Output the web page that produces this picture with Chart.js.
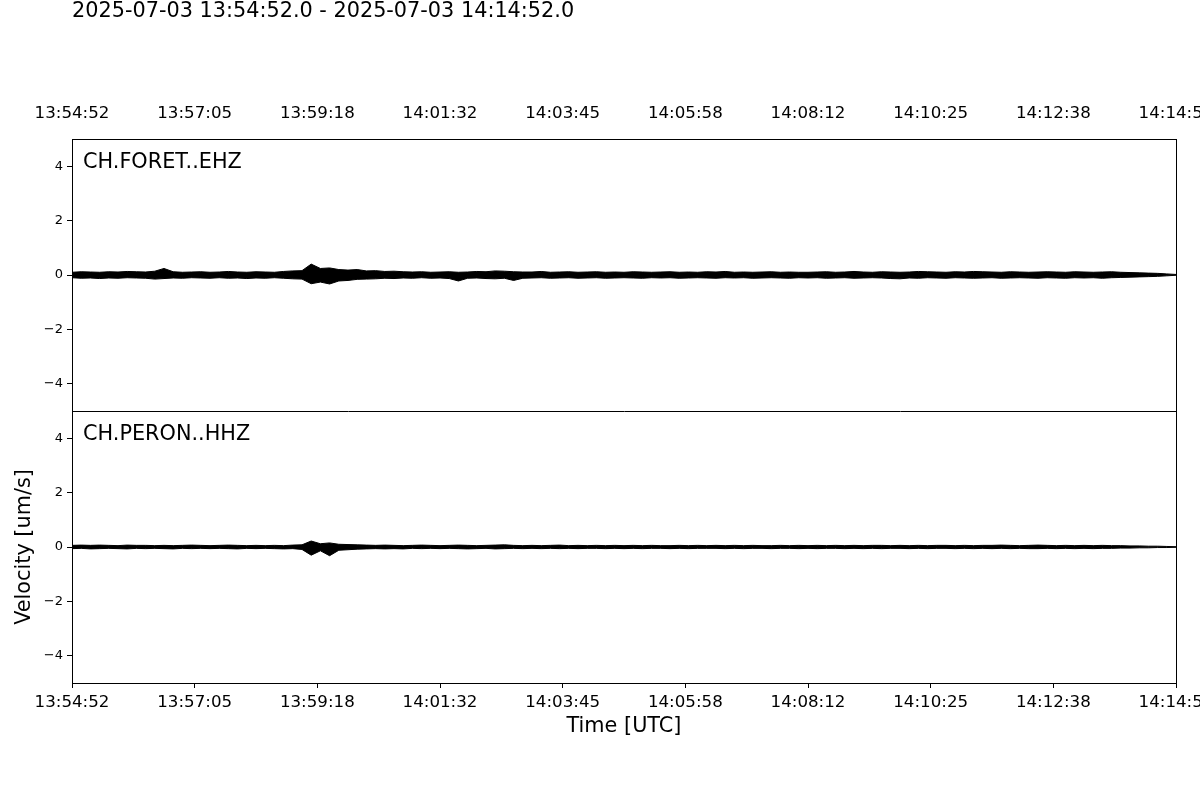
<!DOCTYPE html>
<html lang="en">

<head>
    <meta charset="UTF-8">
    <title>CH.FORET / CH.PERON waveforms</title>
    <style>
        html, body { margin: 0; padding: 0; background: #fff; }
        #wrap { width: 1200px; height: 800px; }
    </style>
</head>

<body>
    <div id="wrap"><canvas id="myChart" width="1200" height="800"></canvas></div>
    <script src="https://cdn.jsdelivr.net/npm/chart.js"></script>
    <script>
        // window shown, seconds from 13:54:52, one envelope sample every 10 s
        const plotTitle = '2025-07-03 13:54:52.0 - 2025-07-03 14:14:52.0';
        const duration = 1200;
        const sampleStep = 10;
        const stations = ['CH.FORET..EHZ', 'CH.PERON..HHZ'];
        const timeTickLabels = ['13:54:52', '13:57:05', '13:59:18', '14:01:32', '14:03:45',
            '14:05:58', '14:08:12', '14:10:25', '14:12:38', '14:14:52'];
        const velocityTicks = [-4, -2, 0, 2, 4];

        // CH.FORET..EHZ upper / lower envelope [um/s]
        const foretHigh = [
            0.10, 0.12, 0.11, 0.10, 0.12, 0.11, 0.13, 0.12, 0.11, 0.14,
            0.24, 0.12, 0.10, 0.11, 0.12, 0.10, 0.11, 0.13, 0.11, 0.10,
            0.12, 0.11, 0.10, 0.13, 0.15, 0.16, 0.40, 0.24, 0.26, 0.20,
            0.18, 0.20, 0.15, 0.16, 0.13, 0.14, 0.12, 0.11, 0.12, 0.10,
            0.11, 0.12, 0.10, 0.11, 0.13, 0.12, 0.15, 0.14, 0.12, 0.11,
            0.11, 0.13, 0.10, 0.11, 0.12, 0.10, 0.11, 0.12, 0.10, 0.11,
            0.10, 0.12, 0.11, 0.10, 0.11, 0.12, 0.10, 0.11, 0.10, 0.12,
            0.11, 0.13, 0.10, 0.11, 0.10, 0.11, 0.12, 0.10, 0.11, 0.10,
            0.10, 0.11, 0.12, 0.10, 0.11, 0.13, 0.11, 0.10, 0.12, 0.11,
            0.10, 0.11, 0.13, 0.12, 0.11, 0.10, 0.12, 0.11, 0.13, 0.12,
            0.11, 0.10, 0.12, 0.11, 0.10, 0.11, 0.12, 0.11, 0.10, 0.12,
            0.11, 0.10, 0.11, 0.12, 0.10, 0.09, 0.08, 0.07, 0.06, 0.04, 0.02
        ];
        const foretLow = [
            -0.10, -0.12, -0.11, -0.13, -0.11, -0.12, -0.10, -0.11, -0.12, -0.15,
            -0.13, -0.11, -0.12, -0.10, -0.11, -0.12, -0.10, -0.12, -0.11, -0.13,
            -0.11, -0.12, -0.10, -0.12, -0.14, -0.15, -0.32, -0.26, -0.33, -0.22,
            -0.20, -0.16, -0.15, -0.14, -0.12, -0.13, -0.11, -0.12, -0.10, -0.12,
            -0.11, -0.13, -0.22, -0.12, -0.11, -0.13, -0.14, -0.12, -0.20, -0.12,
            -0.11, -0.10, -0.12, -0.11, -0.10, -0.12, -0.11, -0.10, -0.12, -0.11,
            -0.10, -0.11, -0.12, -0.10, -0.11, -0.10, -0.12, -0.11, -0.10, -0.11,
            -0.12, -0.10, -0.11, -0.10, -0.12, -0.11, -0.10, -0.11, -0.12, -0.10,
            -0.11, -0.10, -0.12, -0.11, -0.10, -0.12, -0.11, -0.10, -0.11, -0.13,
            -0.14, -0.11, -0.12, -0.10, -0.11, -0.12, -0.10, -0.11, -0.12, -0.11,
            -0.10, -0.12, -0.11, -0.10, -0.11, -0.12, -0.10, -0.11, -0.12, -0.10,
            -0.11, -0.10, -0.12, -0.10, -0.09, -0.08, -0.07, -0.06, -0.05, -0.03, -0.01
        ];

        // CH.PERON..HHZ upper / lower envelope [um/s]
        const peronHigh = [
            0.06, 0.07, 0.06, 0.07, 0.06, 0.05, 0.07, 0.06, 0.06, 0.05,
            0.06, 0.05, 0.06, 0.07, 0.06, 0.05, 0.06, 0.07, 0.06, 0.05,
            0.06, 0.05, 0.06, 0.05, 0.07, 0.08, 0.22, 0.12, 0.15, 0.10,
            0.09, 0.08, 0.07, 0.06, 0.07, 0.06, 0.05, 0.06, 0.07, 0.06,
            0.05, 0.06, 0.07, 0.06, 0.05, 0.06, 0.07, 0.08, 0.06, 0.05,
            0.06, 0.05, 0.06, 0.07, 0.05, 0.06, 0.05, 0.06, 0.05, 0.06,
            0.05, 0.06, 0.05, 0.06, 0.05, 0.05, 0.06, 0.05, 0.06, 0.05,
            0.06, 0.05, 0.06, 0.05, 0.06, 0.05, 0.05, 0.06, 0.05, 0.06,
            0.05, 0.06, 0.05, 0.06, 0.05, 0.06, 0.05, 0.06, 0.06, 0.05,
            0.06, 0.05, 0.06, 0.05, 0.06, 0.06, 0.05, 0.06, 0.05, 0.06,
            0.06, 0.07, 0.06, 0.05, 0.06, 0.07, 0.06, 0.05, 0.06, 0.05,
            0.06, 0.05, 0.06, 0.05, 0.05, 0.04, 0.04, 0.03, 0.03, 0.02, 0.01
        ];
        const peronLow = [
            -0.06, -0.05, -0.07, -0.06, -0.05, -0.06, -0.07, -0.05, -0.06, -0.05,
            -0.06, -0.07, -0.05, -0.06, -0.05, -0.06, -0.05, -0.06, -0.07, -0.05,
            -0.06, -0.05, -0.06, -0.07, -0.06, -0.09, -0.30, -0.14, -0.32, -0.12,
            -0.10, -0.08, -0.07, -0.06, -0.07, -0.06, -0.07, -0.05, -0.06, -0.05,
            -0.06, -0.05, -0.06, -0.07, -0.06, -0.05, -0.07, -0.06, -0.05, -0.06,
            -0.05, -0.06, -0.05, -0.06, -0.05, -0.06, -0.05, -0.05, -0.06, -0.05,
            -0.06, -0.05, -0.06, -0.05, -0.05, -0.06, -0.05, -0.06, -0.05, -0.05,
            -0.05, -0.06, -0.05, -0.06, -0.05, -0.05, -0.06, -0.05, -0.05, -0.06,
            -0.05, -0.06, -0.05, -0.05, -0.06, -0.05, -0.06, -0.05, -0.06, -0.05,
            -0.05, -0.06, -0.05, -0.06, -0.05, -0.05, -0.06, -0.05, -0.06, -0.05,
            -0.06, -0.05, -0.06, -0.05, -0.06, -0.06, -0.05, -0.06, -0.05, -0.06,
            -0.05, -0.06, -0.05, -0.05, -0.04, -0.04, -0.03, -0.03, -0.02, -0.02, -0.01
        ];

        const FONT = '"DejaVu Sans", "Liberation Sans", sans-serif';

        let toPoints = (values) => values.map((v, i) => ({ x: i * sampleStep, y: v }));

        let envelope = (values, axis, fill) => ({
            data: toPoints(values),
            yAxisID: axis,
            xAxisID: 'x',
            borderColor: '#000',
            backgroundColor: '#000',
            borderWidth: 1,
            pointRadius: 0,
            tension: 0,
            fill: fill
        });

        const timeTickValues = timeTickLabels.map((_, i) => i * duration / (timeTickLabels.length - 1));

        let timeAxis = (position, extra) => Object.assign({
            type: 'linear',
            position: position,
            min: 0,
            max: duration,
            afterBuildTicks: (s) => { s.ticks = timeTickValues.map(v => ({ value: v })); },
            border: { display: false }
        }, extra);

        let timeTicks = (pad) => ({
            autoSkip: false,
            maxRotation: 0,
            color: '#000',
            padding: pad,
            font: { family: FONT, size: 16.67 },
            callback: (v, i) => timeTickLabels[i]
        });

        let velocityAxis = (extra) => Object.assign({
            type: 'linear',
            position: 'left',
            stack: 'panels',
            stackWeight: 1,
            min: -5,
            max: 5,
            afterBuildTicks: (s) => { s.ticks = velocityTicks.map(v => ({ value: v })); },
            afterFit: (s) => { s.width = 72; },
            grid: { display: true, drawOnChartArea: false, color: '#000', tickLength: 5 },
            border: { display: false },
            ticks: {
                color: '#000',
                padding: 4,
                font: { family: FONT, size: 13 },
                callback: (v) => String(v).replace('-', '\u2212')
            }
        }, extra);

        const framePlugin = {
            id: 'frame',
            afterDraw(chart) {
                const { ctx, chartArea: a, scales } = chart;
                const l = Math.round(a.left) + 0.5, r = Math.round(a.right) + 0.5;
                const t = Math.round(a.top) + 0.5, b = Math.round(a.bottom) + 0.5;
                const mid = Math.round(scales.yTop.bottom) + 0.5;
                ctx.save();
                ctx.strokeStyle = '#000';
                ctx.lineWidth = 1;
                ctx.strokeRect(l, t, r - l, b - t);
                ctx.beginPath();
                ctx.moveTo(l, mid);
                ctx.lineTo(r, mid);
                ctx.stroke();

                ctx.fillStyle = '#000';
                ctx.textAlign = 'left';
                ctx.textBaseline = 'alphabetic';
                ctx.font = '20.8px ' + FONT;
                ctx.fillText(stations[0], a.left + 11, scales.yTop.top + 29);
                ctx.fillText(stations[1], a.left + 11, scales.yBot.top + 29);
                ctx.fillText(plotTitle, a.left, 16.5);
                ctx.restore();
            }
        };

        const config = {
            type: 'line',
            data: {
                datasets: [
                    envelope(foretHigh, 'yTop', '+1'),
                    envelope(foretLow, 'yTop', false),
                    envelope(peronHigh, 'yBot', '+1'),
                    envelope(peronLow, 'yBot', false)
                ]
            },
            options: {
                responsive: false,
                animation: false,
                devicePixelRatio: 1,
                layout: { padding: { left: 0, top: 0, right: 24, bottom: 0 } },
                plugins: {
                    legend: { display: false },
                    tooltip: { enabled: false },
                    title: { display: false }
                },
                scales: {
                    x: timeAxis('bottom', {
                        afterFit: (s) => { s.height = 117; s.paddingLeft = 0; s.paddingRight = 0; },
                        grid: { display: true, drawOnChartArea: false, color: '#000', tickLength: 5 },
                        ticks: timeTicks(5),
                        title: {
                            display: true, text: 'Time [UTC]', color: '#000',
                            font: { family: FONT, size: 20.8 },
                            padding: { top: 0, bottom: 60.5 }
                        }
                    }),
                    xTop: timeAxis('top', {
                        afterFit: (s) => { s.height = 139; s.paddingLeft = 0; s.paddingRight = 0; },
                        grid: { display: false },
                        ticks: timeTicks(7.5)
                    }),
                    yBot: velocityAxis({
                        title: {
                            display: true, text: 'Velocity [um/s]', color: '#000',
                            font: { family: FONT, size: 20.8 },
                            padding: { top: 12.5, bottom: 0 }
                        }
                    }),
                    yTop: velocityAxis({})
                }
            },
            plugins: [framePlugin]
        };

        const myChart = new Chart(document.getElementById('myChart'), config);
    </script>
</body>

</html>
